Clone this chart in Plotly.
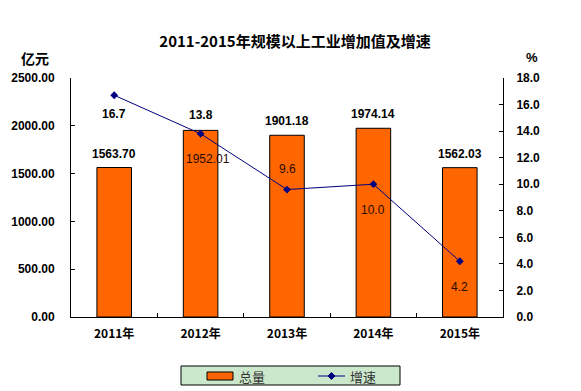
import plotly.graph_objects as go

years = ["2011年", "2012年", "2013年", "2014年", "2015年"]
total = [1563.70, 1952.01, 1901.18, 1974.14, 1562.03]
growth = [16.7, 13.8, 9.6, 10.0, 4.2]
series_names = ["总量", "增速"]

# label placement (pixel offsets), styling only
bar_label_shift = [14, -29, 14, 14, 14]
bar_label_bold = [True, False, True, True, True]
line_label_shift = [-19, 19, 21, -26, -26]
line_label_bold = [True, True, False, False, False]

NUM = "Liberation Sans, Arial, sans-serif"
CJK = "Noto Sans CJK SC, sans-serif"
BAR_COLOR = "#FF6600"
LINE_COLOR = "#000080"

fig = go.Figure()
fig.add_trace(go.Bar(
    x=years, y=total, name=series_names[0], width=0.4,
    marker=dict(color=BAR_COLOR, line=dict(color="black", width=1)),
    yaxis="y",
))
fig.add_trace(go.Scatter(
    x=years, y=growth, name=series_names[1], mode="lines+markers",
    line=dict(color=LINE_COLOR, width=1),
    marker=dict(symbol="diamond", size=6, color=LINE_COLOR),
    yaxis="y2",
))

L, R, T, B = 71, 78, 78, 74
W, H = 581 - L - R, 391 - T - B


def px(x):
    return (x - L) / W


def py(y):
    return (391 - B - y) / H


ann = []
for i, (yr, v) in enumerate(zip(years, total)):
    b = bar_label_bold[i]
    ann.append(dict(x=yr, y=v, xref="x", yref="y", text=(f"<b>{v:.2f}</b>" if b else f"{v:.2f}"),
                    showarrow=False, yshift=bar_label_shift[i], xshift=(0 if b else 7),
                    font=dict(family=NUM, size=12, color="black" if b else "#2a0a00")))
for i, (yr, v) in enumerate(zip(years, growth)):
    b = line_label_bold[i]
    ann.append(dict(x=yr, y=v, xref="x", yref="y2", text=(f"<b>{v:.1f}</b>" if b else f"{v:.1f}"),
                    showarrow=False, yshift=line_label_shift[i],
                    font=dict(family=NUM, size=12, color="black" if b else "#2a0a00")))
ann.append(dict(x=px(35), y=py(58), xref="paper", yref="paper", text="<b>亿元</b>",
                xanchor="center", yanchor="middle",
                showarrow=False, font=dict(family=CJK, size=14, color="black")))
ann.append(dict(x=px(532), y=py(57), xref="paper", yref="paper", text="<b>%</b>",
                xanchor="center", yanchor="middle",
                showarrow=False, font=dict(family=NUM, size=13, color="black")))

# custom legend (matches the reference's legend box)
shapes = [
    dict(type="rect", xref="paper", yref="paper", x0=px(181), x1=px(400), y0=py(385), y1=py(366),
         fillcolor="#CCE8CC", line=dict(color="black", width=1), layer="above"),
    dict(type="rect", xref="paper", yref="paper", x0=px(207), x1=px(233), y0=py(380), y1=py(372),
         fillcolor=BAR_COLOR, line=dict(color="black", width=1), layer="above"),
    dict(type="line", xref="paper", yref="paper", x0=px(318), x1=px(345), y0=py(376), y1=py(376),
         line=dict(color=LINE_COLOR, width=1), layer="above"),
    dict(type="path", xref="paper", yref="paper",
         path=f"M {px(331.5)},{py(372.5)} L {px(335)},{py(376)} L {px(331.5)},{py(379.5)} L {px(328)},{py(376)} Z",
         fillcolor=LINE_COLOR, line=dict(color=LINE_COLOR, width=1), layer="above"),
]
ann.append(dict(x=px(237), y=py(376), xref="paper", yref="paper", text=series_names[0],
                xanchor="left", yanchor="middle", showarrow=False,
                font=dict(family=CJK, size=13, color="#333333")))
ann.append(dict(x=px(348), y=py(376), xref="paper", yref="paper", text=series_names[1],
                xanchor="left", yanchor="middle", showarrow=False,
                font=dict(family=CJK, size=13, color="#333333")))

fig.update_layout(
    width=581, height=391,
    margin=dict(l=L, r=R, t=T, b=B, autoexpand=False),
    paper_bgcolor="white", plot_bgcolor="white",
    title=dict(text="<b>2011-2015年规模以上工业增加值及增速</b>", x=295 / 581, xanchor="center",
               y=1 - 42 / 391, yanchor="middle", xref="container", yref="container",
               font=dict(family=CJK, size=15, color="black")),
    xaxis=dict(type="category", showline=True, linecolor="black", linewidth=1,
               ticks="inside", tickson="boundaries", ticklen=4, tickcolor="black",
               tickfont=dict(family=CJK, size=12, color="black", weight="bold"),
               ticklabelstandoff=6,
               showgrid=False, zeroline=False, automargin=False),
    yaxis=dict(range=[0, 2500], dtick=500, tickformat=".2f", showline=True, linecolor="black",
               ticks="inside", ticklen=4, tickcolor="black", showgrid=False, zeroline=False,
               automargin=False, ticklabelstandoff=13,
               tickfont=dict(family=NUM, size=12, color="black", weight="bold")),
    yaxis2=dict(range=[0, 18], dtick=2, tickformat=".1f", overlaying="y", side="right",
                showline=True, linecolor="black", ticks="inside", ticklen=4, tickcolor="black",
                showgrid=False, zeroline=False, automargin=False, ticklabelstandoff=10,
                tickfont=dict(family=NUM, size=12, color="black", weight="bold")),
    bargap=0.6,
    showlegend=False,
    shapes=shapes,
    annotations=ann,
)

fig.write_html("out.html")
